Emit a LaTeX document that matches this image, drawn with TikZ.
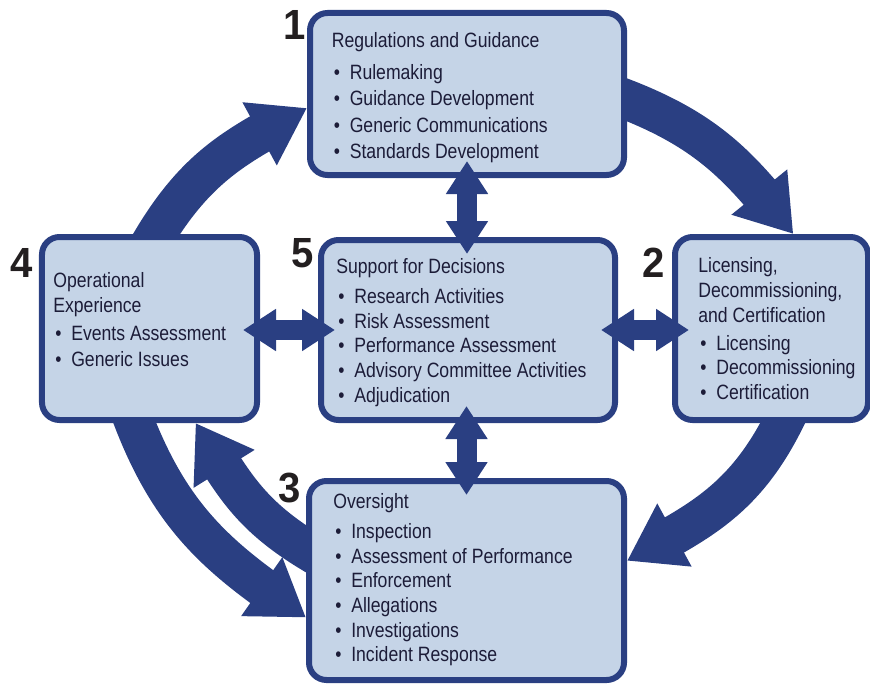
\documentclass[tikz,border=0pt]{standalone}
\usepackage{fontspec}
\setmainfont{Liberation Sans}[FakeStretch=0.85]
\newfontfamily\numfont{Liberation Sans}[FakeStretch=0.95]
\usepackage{tikz}
\usetikzlibrary{arrows.meta,bending,backgrounds}
\definecolor{nrcblue}{HTML}{2A3F82}
\definecolor{boxfill}{HTML}{C5D4E7}
\definecolor{txtcol}{HTML}{1C1C38}
\definecolor{numcol}{HTML}{231F20}
\newcommand\blt{\hspace*{1.1pt}\makebox[9.1pt][l]{\textbullet}}
\tikzset{
	roundbox/.style={rectangle, rounded corners=3.5mm, draw=nrcblue, fill=boxfill, line width=1.2mm, inner sep=0pt}
}
\tikzset{
	boxtext/.style={anchor=north west, inner sep=0pt, align=left, text=txtcol, font=\fontsize{11.8}{14}\selectfont}
}
\tikzset{
	stepnum/.style={inner sep=0pt, text=numcol, font=\numfont\bfseries\fontsize{24}{24}\selectfont}
}
\tikzset{
	cyc/.style={draw=nrcblue, line width=8mm, shorten <=-3mm, -{Triangle[length=10.8mm,width=13.6mm]}}
}
\tikzset{
	dbl/.style={draw=nrcblue, line width=4mm, shorten <=-3.4mm, shorten >=-3.4mm, {Triangle[length=6.6mm,width=8mm]}-{Triangle[length=6.6mm,width=8mm]}}
}

\begin{document}
\begin{tikzpicture}[x=0.2mm,y=0.2mm]
			\useasboundingbox (0,0) rectangle (870,-685);
			% the five boxes
			\node[roundbox, minimum width=62.8mm, minimum height=32.4mm] (b1) at (467,-94) {};
			\node[roundbox, minimum width=38.6mm, minimum height=36.6mm] (b2) at (771.5,-328.5) {};
			\node[roundbox, minimum width=63mm, minimum height=39.8mm] (b3) at (466.5,-580.5) {};
			\node[roundbox, minimum width=43mm, minimum height=36.6mm] (b4) at (149.5,-328.5) {};
			\node[roundbox, minimum width=58.8mm, minimum height=36mm] (b5) at (468,-330) {};
			% outer cycle, behind the boxes
			\begin{scope}[on background layer]
			\draw[cyc] (b4.86) to[out=60,in=208] (b1.185);
			\draw[cyc] (b1.-2) to[out=-20,in=128] (b2.77);
			\draw[cyc] (b2.-83) to[out=-115,in=28] (b3.7);
			\draw[cyc] (b3.169) to[out=150,in=-58] (b4.-64);
			\draw[cyc] (b4.-99) to[out=-70,in=146] (b3.193);
			\end{scope}
			% box texts
			\node[boxtext, font=\fontsize{11.8}{15}\selectfont] (t1) at (331.5,-32.5) {Regulations and Guidance\\[3pt]
				\blt Rulemaking\\ \blt Guidance Development\\ \blt Generic Communications\\ \blt Standards Development};
			\node[boxtext] (t2) at (698,-257.5) {Licensing,\\ Decommissioning,\\ and Certification\\[2pt]
				\blt Licensing\\ \blt Decommissioning\\ \blt Certification};
			\node[boxtext] (t3) at (333,-493.5) {Oversight\\[3pt]
				\blt Inspection\\ \blt Assessment of Performance\\ \blt Enforcement\\ \blt Allegations\\ \blt Investigations\\ \blt Incident Response};
			\node[boxtext] (t4) at (53,-272.5) {Operational\\ Experience\\[2pt]
				\blt Events Assessment\\[1pt] \blt Generic Issues};
			\node[boxtext] (t5) at (336,-258.5) {Support for Decisions\\[3pt]
				\blt Research Activities\\ \blt Risk Assessment\\ \blt Performance Assessment\\ \blt Advisory Committee Activities\\ \blt Adjudication};
			% numbers
			\node[stepnum] (n1) at (295,-25) {1};
			\node[stepnum] (n2) at (654,-263) {2};
			\node[stepnum] (n3) at (290,-488) {3};
			\node[stepnum] (n4) at (22,-263) {4};
			\node[stepnum] (n5) at (303,-253) {5};
			% links to support box
			\draw[dbl] (b1.south) -- (b1.south |- b5.north);
			\draw[dbl] (b3.north |- b5.south) -- (b3.north);
			\draw[dbl] (b5.west -| b4.east) -- (b5.west);
			\draw[dbl] (b5.east) -- (b5.east -| b2.west);
		\end{tikzpicture}
\end{document}
